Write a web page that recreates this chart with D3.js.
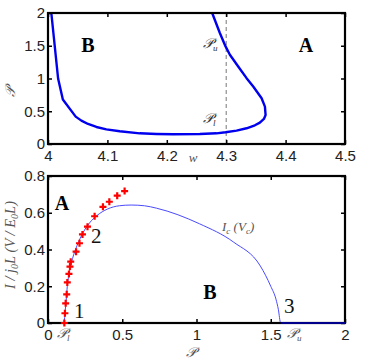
<!DOCTYPE html>
<html>
<head>
<meta charset="utf-8">
<script src="https://d3js.org/d3.v7.min.js"></script>
<style>
  body { margin: 0; background: #fff; }
</style>
</head>
<body>
<div id="chart"></div>
<script>

// top panel: boundary curve P(w)
var topW = [4.0056, 4.017, 4.025, 4.0466, 4.0562, 4.0674, 4.0815, 4.0983, 4.1208, 4.1545, 4.1826, 4.2107, 4.2556, 4.2837, 4.2989, 4.3174, 4.3343, 4.3483, 4.3567, 4.3635, 4.3663, 4.3652, 4.3596, 4.3455, 4.3343, 4.3202, 4.3062, 4.2989, 4.2893, 4.2764];
var topP = [2.0, 1.0, 0.68, 0.418, 0.357, 0.306, 0.260, 0.224, 0.194, 0.163, 0.153, 0.148, 0.153, 0.163, 0.179, 0.204, 0.240, 0.286, 0.327, 0.383, 0.444, 0.571, 0.699, 0.878, 1.005, 1.184, 1.362, 1.49, 1.694, 2.0];
var topXTicks = [4, 4.1, 4.2, 4.3, 4.4, 4.5];
var topYTicks = [0, 0.5, 1, 1.5, 2];
var wCut = 4.3;

// bottom panel: critical current Ic(Vc) and simulated points
var curveP = [0.109, 0.115, 0.122, 0.13, 0.145, 0.165, 0.195, 0.235, 0.28, 0.33, 0.4, 0.48, 0.56, 0.65, 0.73, 1.02, 1.25, 1.43, 1.5, 1.535, 1.551, 1.567, 2.0];
var curveI = [0, 0.06, 0.12, 0.2, 0.28, 0.35, 0.42, 0.49, 0.545, 0.585, 0.62, 0.638, 0.642, 0.638, 0.625, 0.54, 0.44, 0.31, 0.2, 0.13, 0.075, 0, 0];
var crossP = [0.110, 0.114, 0.119, 0.126, 0.130, 0.141, 0.148, 0.153, 0.189, 0.212, 0.232, 0.266, 0.314, 0.370, 0.413, 0.466, 0.516];
var crossI = [0, 0.053, 0.107, 0.156, 0.221, 0.267, 0.307, 0.334, 0.388, 0.434, 0.482, 0.524, 0.581, 0.632, 0.660, 0.693, 0.718];
var botXTicks = [0, 0.5, 1, 1.5, 2];
var botYTicks = [0, 0.2, 0.4, 0.6, 0.8];

var width = 374, height = 362;
var svg = d3.select("#chart").append("svg")
    .attr("width", width)
    .attr("height", height);

var serif = "'Liberation Serif', 'DejaVu Serif', serif";
var sans = "'Liberation Sans', Arial, sans-serif";

function frame(x, y, xt, yt) {
  var g = svg.append("g");
  var x0 = x.range()[0], x1 = x.range()[1], y0 = y.range()[0], y1 = y.range()[1];
  g.append("g").attr("transform", "translate(0," + y0 + ")")
    .call(d3.axisBottom(x).tickValues(xt).tickSize(-4).tickPadding(6).tickFormat(d3.format("")));
  g.append("g").attr("transform", "translate(" + x0 + ",0)")
    .call(d3.axisLeft(y).tickValues(yt).tickSize(-4).tickPadding(3).tickFormat(d3.format("")));
  g.append("g").attr("transform", "translate(0," + y1 + ")")
    .call(d3.axisTop(x).tickValues(xt).tickSize(-4).tickFormat(""));
  g.append("g").attr("transform", "translate(" + x1 + ",0)")
    .call(d3.axisRight(y).tickValues(yt).tickSize(-4).tickFormat(""));
  g.selectAll(".domain").remove();
  g.selectAll(".tick line").attr("stroke", "#000").attr("stroke-width", 1.5);
  g.selectAll(".tick text")
    .attr("font-family", sans).attr("font-size", 15).attr("fill", "#222");
  g.append("rect")
    .attr("x", x0).attr("y", y1)
    .attr("width", x1 - x0).attr("height", y0 - y1)
    .attr("fill", "none").attr("stroke", "#000").attr("stroke-width", 2.2);
  return g;
}

function scriptP(x, y, sub, size, color) {
  var t = svg.append("text").attr("x", x).attr("y", y)
    .attr("font-family", serif).attr("font-style", "italic")
    .attr("font-size", size).attr("fill", color);
  t.append("tspan").text("\u{1D4AB}");
  if (sub) t.append("tspan").attr("font-size", size * 0.65).attr("dy", 3).text(sub);
  return t;
}

function bigLetter(x, y, s) {
  svg.append("text").attr("x", x).attr("y", y).attr("text-anchor", "middle")
    .attr("font-family", serif).attr("font-weight", "bold").attr("font-size", 20).text(s);
}

// ---------- top panel ----------
var xTop = d3.scaleLinear().domain([4, 4.5]).range([48, 345]);
var yTop = d3.scaleLinear().domain([0, 2]).range([144, 13]);

svg.append("line")
  .attr("x1", xTop(wCut)).attr("x2", xTop(wCut))
  .attr("y1", yTop(2)).attr("y2", yTop(0))
  .attr("stroke", "#777").attr("stroke-width", 1).attr("stroke-dasharray", "4,3");

svg.append("path")
  .datum(topW)
  .attr("d", d3.line()
    .x(function(d, i) { return xTop(topW[i]); })
    .y(function(d, i) { return yTop(topP[i]); }))
  .attr("fill", "none").attr("stroke", "#0000ee").attr("stroke-width", 2.4)
  .attr("stroke-linejoin", "round");

frame(xTop, yTop, topXTicks, topYTicks);

bigLetter(88, 52, "B");
bigLetter(306, 52, "A");

scriptP(203, 48, "u", 14, "#333");
scriptP(203, 123, "l", 14, "#333");

svg.append("text").attr("x", 193).attr("y", 162).attr("text-anchor", "middle")
  .attr("font-family", serif).attr("font-style", "italic").attr("font-size", 13)
  .attr("fill", "#555").text("w");

scriptP(0, 0, null, 14, "#555")
  .attr("text-anchor", "middle")
  .attr("transform", "translate(15,92) rotate(-90)");

// ---------- bottom panel ----------
var xBot = d3.scaleLinear().domain([0, 2]).range([48, 345]);
var yBot = d3.scaleLinear().domain([0, 0.8]).range([323, 176]);

svg.append("path")
  .datum(curveP)
  .attr("d", d3.line()
    .x(function(d, i) { return xBot(curveP[i]); })
    .y(function(d, i) { return yBot(curveI[i]); })
    .curve(d3.curveMonotoneX))
  .attr("fill", "none").attr("stroke", "#4a4aff").attr("stroke-width", 1);

frame(xBot, yBot, botXTicks, botYTicks);

svg.append("path")
  .attr("d", "M" + xBot(1.567) + "," + yBot(0) + "H" + xBot(2))
  .attr("stroke", "#00008b").attr("stroke-width", 2);

svg.selectAll(".cross")
  .data(crossP)
  .enter().append("path")
  .attr("class", "cross")
  .attr("transform", function(d, i) { return "translate(" + xBot(crossP[i]) + "," + yBot(crossI[i]) + ")"; })
  .attr("d", "M-3.5,0H3.5M0,-3.5V3.5")
  .attr("stroke", "#ff0000").attr("stroke-width", 2.2);

bigLetter(62, 210, "A");
bigLetter(210, 299, "B");

var numStyle = function(t) {
  return t.attr("font-family", serif).attr("font-size", 21).attr("fill", "#111");
};
numStyle(svg.append("text").attr("x", 74).attr("y", 318).text("1"));
numStyle(svg.append("text").attr("x", 91).attr("y", 243).text("2"));
numStyle(svg.append("text").attr("x", 284).attr("y", 313).text("3"));

var ic = svg.append("text").attr("x", 222).attr("y", 231)
  .attr("font-family", serif).attr("font-style", "italic").attr("font-size", 13).attr("fill", "#555");
ic.append("tspan").text("I");
ic.append("tspan").attr("font-size", 9).attr("dy", 3).text("c");
ic.append("tspan").attr("dy", -3).text(" (V");
ic.append("tspan").attr("font-size", 9).attr("dy", 3).text("c");
ic.append("tspan").attr("dy", -3).text(")");

scriptP(57, 338, "l", 14, "#555");
scriptP(287, 338, "u", 14, "#555");
scriptP(191, 357, null, 14, "#555").attr("text-anchor", "middle");

var yl = svg.append("text")
  .attr("transform", "translate(15,245) rotate(-90)")
  .attr("text-anchor", "middle")
  .attr("font-family", serif).attr("font-style", "italic").attr("font-size", 14.5).attr("fill", "#555");
yl.append("tspan").text("I / j");
yl.append("tspan").attr("font-size", 10).attr("dy", 3).text("0");
yl.append("tspan").attr("dy", -3).text("L (V / E");
yl.append("tspan").attr("font-size", 10).attr("dy", 3).text("0");
yl.append("tspan").attr("dy", -3).text("L)");

</script>
</body>
</html>
